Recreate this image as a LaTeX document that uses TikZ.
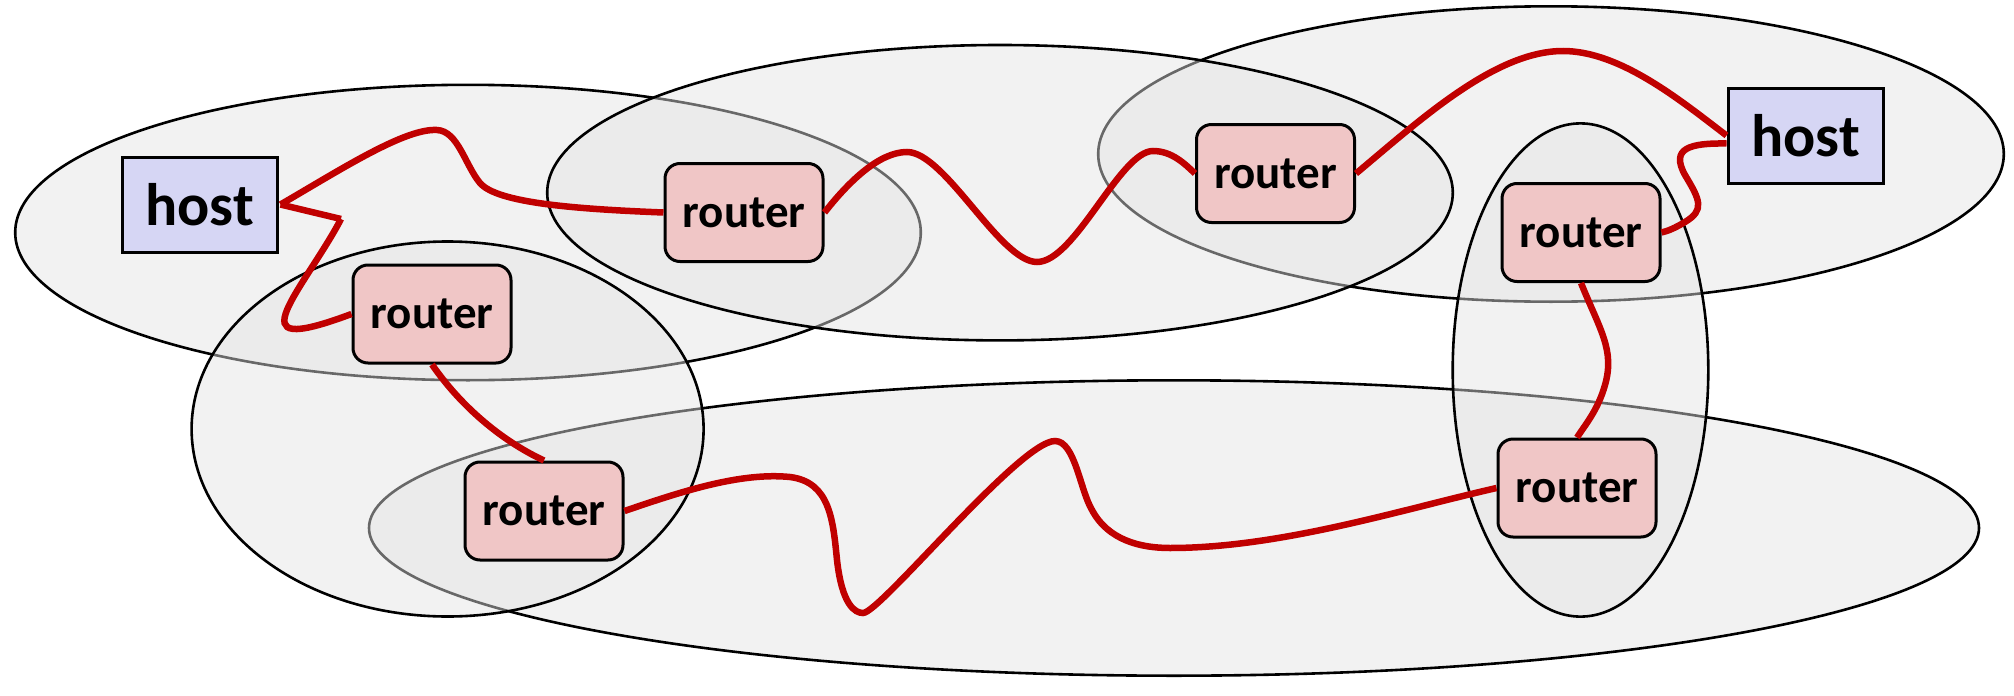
\documentclass[tikz,border=0pt]{standalone}
\usepackage{fontspec}
\setmainfont{Carlito}
\definecolor{hostfill}{HTML}{D6D6F4}
\definecolor{routerfill}{HTML}{F0C6C6}
\definecolor{linkred}{HTML}{C00000}
\definecolor{grpfill}{HTML}{E3E3E3}
\begin{document}
\begin{tikzpicture}[x=1pt,y=-1pt,
  grp/.style={draw=black,line width=2.6pt,fill=grpfill,fill opacity=0.46},
  hostbox/.style={draw=black,line width=3pt,fill=hostfill,minimum width=155pt,minimum height=95pt,inner sep=0pt,font=\fontsize{60}{64}\selectfont\bfseries},
  routerbox/.style={draw=black,line width=3pt,fill=routerfill,rounded corners=15pt,minimum width=158pt,minimum height=98pt,inner sep=0pt,font=\fontsize{47}{50}\selectfont\bfseries},
  link/.style={draw=linkred,line width=6.5pt}]
\useasboundingbox (0,0) rectangle (2014,696);
% groups (drawing order matters for the grey look of covered borders)
\path[grp] (468,232.5) ellipse [x radius=452.8pt, y radius=147.7pt];
\path[grp] (1551,154) ellipse [x radius=452.8pt, y radius=147.7pt];
\path[grp] (1174,528) ellipse [x radius=805pt, y radius=147.7pt];
\path[grp] (1000,192.7) ellipse [x radius=452.8pt, y radius=147.7pt];
\path[grp] (447.6,429) ellipse [x radius=256pt, y radius=187.5pt];
\path[grp] (1580.5,370) ellipse [x radius=127.8pt, y radius=246.6pt];
% nodes
\node[hostbox] (h1) at (199.5,204.5) {host};
\node[hostbox] (h2) at (1805.5,135.5) {host};
\node[routerbox] (r1) at (744,212.5) {router};
\node[routerbox] (r2) at (1275.5,173.5) {router};
\node[routerbox] (r3) at (1581,232.5) {router};
\node[routerbox] (r4) at (432,314) {router};
\node[routerbox] (r5) at (544,511) {router};
\node[routerbox] (r6) at (1577,488) {router};
\coordinate (k1) at (341,219);
% links
\draw[link] ([xshift=2pt]h1.east) .. controls (340,170) and (405,128) .. (437,130)
  .. controls (458,131) and (465,165) .. (480,183)
  .. controls (497,203) and (575,209) .. (r1.west);
\draw[link] ([xshift=2pt]h1.east) -- (k1);
\draw[link] (k1) .. controls (325,250) and (295,290) .. (287,310)
  .. controls (278,332) and (290,337) .. (r4.west);
\draw[link] (r4.south) .. controls (460,405) and (500,440) .. (r5.north);
\draw[link] (r1.east) .. controls (850,180) and (880,152) .. (907,152)
  .. controls (945,152) and (1000,262) .. (1037,262)
  .. controls (1075,262) and (1120,151) .. (1153,151)
  .. controls (1172,151) and (1185,164) .. (r2.west);
\draw[link] (r2.east) .. controls (1420,120) and (1495,51) .. (1563,51)
  .. controls (1620,51) and (1680,100) .. (h2.west);
\draw[link] ([yshift=-8pt]h2.west) .. controls (1690,143) and (1670,148) .. (1685,175)
  .. controls (1700,200) and (1705,210) .. (1685,222)
  .. controls (1675,228) and (1668,231) .. (r3.east);
\draw[link] (r3.south) .. controls (1600,330) and (1615,350) .. (1605,385)
  .. controls (1598,410) and (1585,425) .. (r6.north);
\draw[link] (r5.east) .. controls (680,492) and (740,472) .. (790,477)
  .. controls (830,482) and (833,520) .. (837,560)
  .. controls (842,605) and (855,613) .. (863,613)
  .. controls (880,613) and (1020,441) .. (1055,441)
  .. controls (1075,441) and (1080,490) .. (1092,510)
  .. controls (1108,540) and (1140,548) .. (1170,548)
  .. controls (1280,548) and (1400,510) .. (r6.west);
\end{tikzpicture}
\end{document}
